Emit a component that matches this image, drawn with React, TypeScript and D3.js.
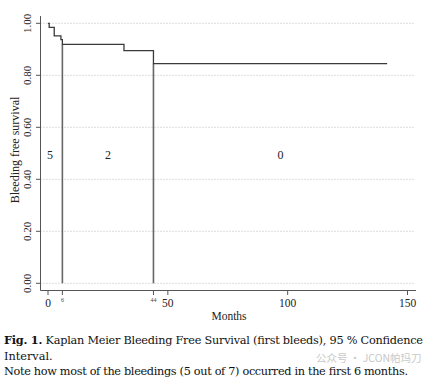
import React from "react";
import * as d3 from "d3";

// Kaplan-Meier step points (months, survival)
const kmTimes = [0, 0.5, 2.6, 5.4, 6, 31.7, 44, 141.5];
const kmSurv = [1.0, 0.984, 0.952, 0.937, 0.919, 0.895, 0.845, 0.845];

const markTimes = [6, 44];
const yTicks = [0, 0.2, 0.4, 0.6, 0.8, 1.0];
const xTicks = [0, 50, 100, 150];
const smallXTicks = [6, 44];
const countLabels = ["5", "2", "0"];
const countTimes = [0.8, 25, 97];

const serif = "'Liberation Serif', 'Times New Roman', serif";
const capFont = "'DejaVu Serif', serif";

export default function App() {
  const x = d3.scaleLinear().domain([0, 150]).range([48, 407.5]);
  const y = d3.scaleLinear().domain([0, 1]).range([283.3, 23.3]);

  const pts = kmTimes.map((t, i) => [t, kmSurv[i]] as [number, number]);
  const line = d3
    .line<[number, number]>()
    .x((d) => x(d[0]))
    .y((d) => y(d[1]))
    .curve(d3.curveStepAfter);

  const survAt = (t: number) => {
    let s = kmSurv[0];
    kmTimes.forEach((tt, i) => {
      if (tt <= t) s = kmSurv[i];
    });
    return s;
  };

  const axisX = 40.5;
  const axisY = 290.5;

  return (
    <svg
      width={444}
      height={387}
      style={{ position: "absolute", left: 0, top: 0, background: "#fff" }}
    >
      <rect width={444} height={387} fill="#fff" />

      {/* dotted gridlines */}
      {yTicks.map((v) => (
        <line
          key={"g" + v}
          x1={axisX}
          x2={415}
          y1={y(v)}
          y2={y(v)}
          stroke="#aaa"
          strokeWidth={0.8}
          strokeDasharray="1,2"
        />
      ))}

      {/* axes */}
      <line x1={axisX} x2={axisX} y1={16} y2={axisY} stroke="#555" strokeWidth={1} />
      <line x1={axisX} x2={416} y1={axisY} y2={axisY} stroke="#555" strokeWidth={1} />

      {yTicks.map((v) => (
        <g key={"yt" + v}>
          <line x1={36} x2={axisX} y1={y(v)} y2={y(v)} stroke="#555" />
          <text
            transform={`translate(${31},${y(v)}) rotate(-90)`}
            textAnchor="middle"
            fontFamily={serif}
            fontSize={11}
            fill="#222"
          >
            {v.toFixed(2)}
          </text>
        </g>
      ))}

      {xTicks.map((v) => (
        <g key={"xt" + v}>
          <line x1={x(v)} x2={x(v)} y1={axisY} y2={295} stroke="#555" />
          <text
            x={x(v)}
            y={307}
            textAnchor="middle"
            fontFamily={serif}
            fontSize={11.5}
            fill="#222"
          >
            {v}
          </text>
        </g>
      ))}
      {smallXTicks.map((v) => (
        <g key={"sx" + v}>
          <line x1={x(v)} x2={x(v)} y1={axisY} y2={295} stroke="#555" />
          <text
            x={x(v)}
            y={302}
            textAnchor="middle"
            fontFamily={serif}
            fontSize={6}
            fill="#444"
          >
            {v}
          </text>
        </g>
      ))}

      <text
        x={229}
        y={320}
        textAnchor="middle"
        fontFamily={serif}
        fontSize={11.5}
        fill="#222"
      >
        Months
      </text>
      <text
        transform={`translate(${19},${150}) rotate(-90)`}
        textAnchor="middle"
        fontFamily={serif}
        fontSize={12}
        fill="#222"
      >
        Bleeding free survival
      </text>

      {/* vertical marks at 6 and 44 months */}
      {markTimes.map((t) => (
        <line
          key={"m" + t}
          x1={x(t)}
          x2={x(t)}
          y1={y(survAt(t))}
          y2={y(0)}
          stroke="#666"
          strokeWidth={1.6}
        />
      ))}

      <path d={line(pts) || ""} fill="none" stroke="#3a3a3a" strokeWidth={1.3} />

      {countLabels.map((c, i) => (
        <text
          key={"c" + i}
          x={x(countTimes[i])}
          y={y(0.5) + 5.5}
          textAnchor="middle"
          fontFamily={serif}
          fontSize={12}
          fill="#222"
        >
          {c}
        </text>
      ))}

      {/* caption */}
      <text
        x={4}
        y={344}
        fontFamily={capFont}
        fontSize={11.3}
        fill="#111"
        textLength={419}
        lengthAdjust="spacing"
      >
        <tspan fontWeight="bold">Fig. 1.</tspan>
        <tspan> Kaplan Meier Bleeding Free Survival (first bleeds), 95 % Confidence</tspan>
      </text>
      <text x={4} y={359.5} fontFamily={capFont} fontSize={11.3} fill="#111">
        Interval.
      </text>
      <text
        x={4}
        y={375}
        fontFamily={capFont}
        fontSize={11.3}
        fill="#111"
        textLength={404}
        lengthAdjust="spacing"
      >
        Note how most of the bleedings (5 out of 7) occurred in the first 6 months.
      </text>
      <text
        x={316}
        y={362}
        fontFamily="'Noto Sans CJK SC', sans-serif"
        fontSize={10.5}
        fill="#bbb"
        opacity={0.8}
      >
        公众号 · JCON帕玛刀
      </text>
    </svg>
  );
}
